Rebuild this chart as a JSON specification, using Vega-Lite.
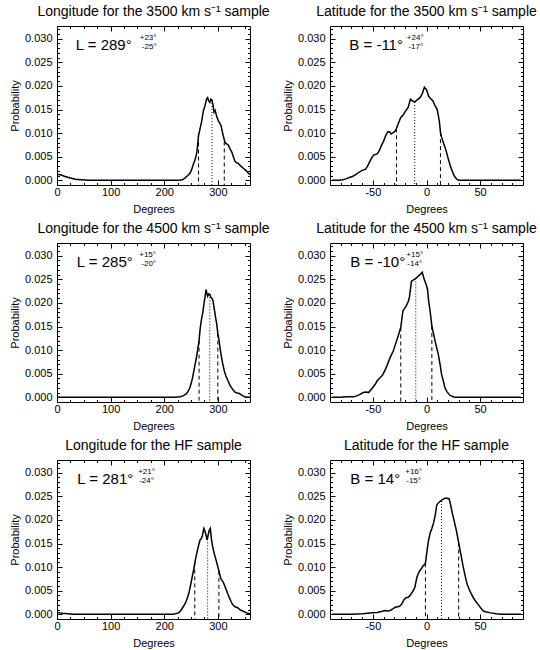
{
"$schema": "https://vega.github.io/schema/vega-lite/v6.json",
"padding": {"left": 9, "top": 5, "right": 0, "bottom": 0},
"background": "white",
"config": {
  "font": "Liberation Sans",
  "view": {"stroke": null},
  "axis": {"domainColor": "black", "tickColor": "black", "labelColor": "black", "titleColor": "black", "labelFont": "Liberation Sans", "titleFont": "Liberation Sans", "labelFontSize": 11, "titleFontSize": 11, "titleFontWeight": "normal", "grid": false, "tickWidth": 1, "domainWidth": 1, "labelFlush": false, "labelOverlap": false, "titlePadding": 4},
  "axisLeft": {"labelPadding": 10},
  "axisBottom": {"labelPadding": 6},
  "title": {"fontSize": 14, "fontWeight": "normal", "font": "Liberation Sans", "color": "black", "frame": "group", "offset": 4, "anchor": "middle"}
},
"datasets": {
  "curves": [
    {"s":"L3500","x":0,"p":0.0013},{"s":"L3500","x":8,"p":0.0011},{"s":"L3500","x":15,"p":0.0008},{"s":"L3500","x":25,"p":0.0005},{"s":"L3500","x":34,"p":0.0002},{"s":"L3500","x":45,"p":0.0001},{"s":"L3500","x":60,"p":0},{"s":"L3500","x":100,"p":0},{"s":"L3500","x":150,"p":0},{"s":"L3500","x":200,"p":0},{"s":"L3500","x":227,"p":0},{"s":"L3500","x":234,"p":0.0001},{"s":"L3500","x":239,"p":0.0005},{"s":"L3500","x":244,"p":0.001},{"s":"L3500","x":248,"p":0.0015},{"s":"L3500","x":251,"p":0.0022},{"s":"L3500","x":254,"p":0.0033},{"s":"L3500","x":258,"p":0.0045},{"s":"L3500","x":261,"p":0.006},{"s":"L3500","x":264,"p":0.0095},{"s":"L3500","x":267,"p":0.011},{"s":"L3500","x":270,"p":0.0126},{"s":"L3500","x":273,"p":0.0147},{"s":"L3500","x":276,"p":0.0158},{"s":"L3500","x":279,"p":0.0172},{"s":"L3500","x":281,"p":0.0175},{"s":"L3500","x":283,"p":0.0168},{"s":"L3500","x":285,"p":0.0165},{"s":"L3500","x":287,"p":0.0172},{"s":"L3500","x":289,"p":0.017},{"s":"L3500","x":291,"p":0.016},{"s":"L3500","x":293,"p":0.0144},{"s":"L3500","x":295,"p":0.0148},{"s":"L3500","x":298,"p":0.0135},{"s":"L3500","x":301,"p":0.0126},{"s":"L3500","x":304,"p":0.012},{"s":"L3500","x":306,"p":0.0116},{"s":"L3500","x":308,"p":0.0105},{"s":"L3500","x":310,"p":0.0095},{"s":"L3500","x":313,"p":0.0082},{"s":"L3500","x":315,"p":0.0078},{"s":"L3500","x":318,"p":0.0076},{"s":"L3500","x":320,"p":0.0074},{"s":"L3500","x":323,"p":0.0066},{"s":"L3500","x":326,"p":0.006},{"s":"L3500","x":329,"p":0.005},{"s":"L3500","x":332,"p":0.004},{"s":"L3500","x":335,"p":0.0037},{"s":"L3500","x":338,"p":0.0036},{"s":"L3500","x":341,"p":0.0032},{"s":"L3500","x":344,"p":0.0029},{"s":"L3500","x":348,"p":0.0025},{"s":"L3500","x":351,"p":0.0022},{"s":"L3500","x":354,"p":0.0019},{"s":"L3500","x":357,"p":0.0015},{"s":"L3500","x":360,"p":0.0012},

    {"s":"B3500","x":-88,"p":0},{"s":"B3500","x":-82,"p":0},{"s":"B3500","x":-78,"p":0.0001},{"s":"B3500","x":-75,"p":0.0003},{"s":"B3500","x":-72,"p":0.0006},{"s":"B3500","x":-69,"p":0.0008},{"s":"B3500","x":-66,"p":0.0012},{"s":"B3500","x":-63,"p":0.0017},{"s":"B3500","x":-60,"p":0.0021},{"s":"B3500","x":-57,"p":0.0023},{"s":"B3500","x":-55,"p":0.003},{"s":"B3500","x":-53,"p":0.0039},{"s":"B3500","x":-51,"p":0.0048},{"s":"B3500","x":-49,"p":0.0054},{"s":"B3500","x":-46,"p":0.0056},{"s":"B3500","x":-44,"p":0.0063},{"s":"B3500","x":-42,"p":0.0074},{"s":"B3500","x":-40,"p":0.0083},{"s":"B3500","x":-38,"p":0.0095},{"s":"B3500","x":-36,"p":0.0103},{"s":"B3500","x":-34,"p":0.0102},{"s":"B3500","x":-33,"p":0.0098},{"s":"B3500","x":-31,"p":0.0101},{"s":"B3500","x":-29,"p":0.0105},{"s":"B3500","x":-28,"p":0.011},{"s":"B3500","x":-26,"p":0.0122},{"s":"B3500","x":-24,"p":0.0133},{"s":"B3500","x":-22,"p":0.0138},{"s":"B3500","x":-20,"p":0.0145},{"s":"B3500","x":-17,"p":0.0155},{"s":"B3500","x":-15,"p":0.0172},{"s":"B3500","x":-13,"p":0.0168},{"s":"B3500","x":-11,"p":0.0166},{"s":"B3500","x":-9,"p":0.017},{"s":"B3500","x":-6,"p":0.0175},{"s":"B3500","x":-4,"p":0.0183},{"s":"B3500","x":-2,"p":0.0197},{"s":"B3500","x":0,"p":0.0192},{"s":"B3500","x":2,"p":0.0178},{"s":"B3500","x":4,"p":0.0173},{"s":"B3500","x":6,"p":0.0168},{"s":"B3500","x":8,"p":0.0158},{"s":"B3500","x":10,"p":0.015},{"s":"B3500","x":12,"p":0.0125},{"s":"B3500","x":13,"p":0.0102},{"s":"B3500","x":14,"p":0.0092},{"s":"B3500","x":16,"p":0.0078},{"s":"B3500","x":18,"p":0.0065},{"s":"B3500","x":20,"p":0.0048},{"s":"B3500","x":22,"p":0.0032},{"s":"B3500","x":24,"p":0.0019},{"s":"B3500","x":26,"p":0.0009},{"s":"B3500","x":28,"p":0.0003},{"s":"B3500","x":30,"p":0},{"s":"B3500","x":50,"p":0},{"s":"B3500","x":88,"p":0},

    {"s":"L4500","x":0,"p":0},{"s":"L4500","x":50,"p":0},{"s":"L4500","x":100,"p":0},{"s":"L4500","x":150,"p":0},{"s":"L4500","x":200,"p":0},{"s":"L4500","x":219,"p":0},{"s":"L4500","x":230,"p":0.0001},{"s":"L4500","x":235,"p":0.0003},{"s":"L4500","x":241,"p":0.0007},{"s":"L4500","x":244,"p":0.0012},{"s":"L4500","x":247,"p":0.0018},{"s":"L4500","x":250,"p":0.0028},{"s":"L4500","x":253,"p":0.0042},{"s":"L4500","x":256,"p":0.006},{"s":"L4500","x":260,"p":0.0084},{"s":"L4500","x":263,"p":0.0105},{"s":"L4500","x":265,"p":0.012},{"s":"L4500","x":267,"p":0.0145},{"s":"L4500","x":269,"p":0.0162},{"s":"L4500","x":272,"p":0.018},{"s":"L4500","x":274,"p":0.0197},{"s":"L4500","x":276,"p":0.0212},{"s":"L4500","x":278,"p":0.0228},{"s":"L4500","x":280,"p":0.0218},{"s":"L4500","x":281,"p":0.0214},{"s":"L4500","x":283,"p":0.0219},{"s":"L4500","x":285,"p":0.0218},{"s":"L4500","x":287,"p":0.0212},{"s":"L4500","x":289,"p":0.021},{"s":"L4500","x":291,"p":0.0204},{"s":"L4500","x":294,"p":0.0183},{"s":"L4500","x":296,"p":0.0168},{"s":"L4500","x":298,"p":0.0155},{"s":"L4500","x":300,"p":0.0135},{"s":"L4500","x":302,"p":0.0123},{"s":"L4500","x":304,"p":0.0105},{"s":"L4500","x":306,"p":0.0091},{"s":"L4500","x":309,"p":0.0072},{"s":"L4500","x":312,"p":0.0056},{"s":"L4500","x":315,"p":0.0045},{"s":"L4500","x":319,"p":0.0035},{"s":"L4500","x":322,"p":0.0027},{"s":"L4500","x":325,"p":0.0021},{"s":"L4500","x":329,"p":0.0015},{"s":"L4500","x":332,"p":0.0011},{"s":"L4500","x":336,"p":0.0009},{"s":"L4500","x":340,"p":0.0008},{"s":"L4500","x":344,"p":0.0005},{"s":"L4500","x":350,"p":0.0001},{"s":"L4500","x":355,"p":0},{"s":"L4500","x":360,"p":0},

    {"s":"B4500","x":-88,"p":0},{"s":"B4500","x":-80,"p":0},{"s":"B4500","x":-75,"p":0.0001},{"s":"B4500","x":-68,"p":0.0001},{"s":"B4500","x":-65,"p":0.0003},{"s":"B4500","x":-62,"p":0.0006},{"s":"B4500","x":-59,"p":0.001},{"s":"B4500","x":-56,"p":0.0011},{"s":"B4500","x":-54,"p":0.001},{"s":"B4500","x":-51,"p":0.0018},{"s":"B4500","x":-48,"p":0.0027},{"s":"B4500","x":-46,"p":0.0035},{"s":"B4500","x":-43,"p":0.0042},{"s":"B4500","x":-41,"p":0.0047},{"s":"B4500","x":-39,"p":0.0056},{"s":"B4500","x":-37,"p":0.0066},{"s":"B4500","x":-34,"p":0.0084},{"s":"B4500","x":-31,"p":0.0098},{"s":"B4500","x":-28,"p":0.0119},{"s":"B4500","x":-26,"p":0.0133},{"s":"B4500","x":-24,"p":0.0148},{"s":"B4500","x":-22,"p":0.0183},{"s":"B4500","x":-19,"p":0.0193},{"s":"B4500","x":-17,"p":0.0203},{"s":"B4500","x":-16,"p":0.0211},{"s":"B4500","x":-14,"p":0.0246},{"s":"B4500","x":-12,"p":0.0249},{"s":"B4500","x":-10,"p":0.0252},{"s":"B4500","x":-8,"p":0.0256},{"s":"B4500","x":-6,"p":0.026},{"s":"B4500","x":-4,"p":0.0265},{"s":"B4500","x":-2,"p":0.0249},{"s":"B4500","x":0,"p":0.0237},{"s":"B4500","x":1,"p":0.0228},{"s":"B4500","x":2,"p":0.0204},{"s":"B4500","x":3.5,"p":0.018},{"s":"B4500","x":5,"p":0.0151},{"s":"B4500","x":7,"p":0.013},{"s":"B4500","x":8,"p":0.0119},{"s":"B4500","x":11,"p":0.0091},{"s":"B4500","x":13,"p":0.0065},{"s":"B4500","x":14,"p":0.0049},{"s":"B4500","x":16,"p":0.0032},{"s":"B4500","x":17,"p":0.0021},{"s":"B4500","x":19,"p":0.0012},{"s":"B4500","x":22,"p":0.0004},{"s":"B4500","x":26,"p":0},{"s":"B4500","x":40,"p":0},{"s":"B4500","x":60,"p":0},{"s":"B4500","x":88,"p":0},

    {"s":"LHF","x":0,"p":0.0004},{"s":"LHF","x":5,"p":0.0003},{"s":"LHF","x":10,"p":0.0002},{"s":"LHF","x":20,"p":0.0001},{"s":"LHF","x":30,"p":0},{"s":"LHF","x":100,"p":0},{"s":"LHF","x":150,"p":0},{"s":"LHF","x":200,"p":0},{"s":"LHF","x":215,"p":0},{"s":"LHF","x":221,"p":0.0001},{"s":"LHF","x":227,"p":0.0003},{"s":"LHF","x":231,"p":0.0008},{"s":"LHF","x":236,"p":0.0017},{"s":"LHF","x":240,"p":0.0025},{"s":"LHF","x":243,"p":0.0034},{"s":"LHF","x":246,"p":0.0045},{"s":"LHF","x":249,"p":0.0061},{"s":"LHF","x":252,"p":0.0078},{"s":"LHF","x":255,"p":0.0095},{"s":"LHF","x":258,"p":0.0115},{"s":"LHF","x":262,"p":0.0136},{"s":"LHF","x":265,"p":0.015},{"s":"LHF","x":267,"p":0.0158},{"s":"LHF","x":269,"p":0.016},{"s":"LHF","x":271,"p":0.0166},{"s":"LHF","x":274,"p":0.0182},{"s":"LHF","x":276,"p":0.0176},{"s":"LHF","x":278,"p":0.0168},{"s":"LHF","x":280,"p":0.0158},{"s":"LHF","x":282,"p":0.0168},{"s":"LHF","x":284,"p":0.0178},{"s":"LHF","x":286,"p":0.0182},{"s":"LHF","x":288,"p":0.016},{"s":"LHF","x":290,"p":0.0145},{"s":"LHF","x":293,"p":0.013},{"s":"LHF","x":296,"p":0.0118},{"s":"LHF","x":299,"p":0.0105},{"s":"LHF","x":302,"p":0.0092},{"s":"LHF","x":305,"p":0.0078},{"s":"LHF","x":307,"p":0.0073},{"s":"LHF","x":310,"p":0.0068},{"s":"LHF","x":313,"p":0.006},{"s":"LHF","x":316,"p":0.0051},{"s":"LHF","x":319,"p":0.0042},{"s":"LHF","x":322,"p":0.0034},{"s":"LHF","x":325,"p":0.0026},{"s":"LHF","x":328,"p":0.002},{"s":"LHF","x":332,"p":0.0016},{"s":"LHF","x":337,"p":0.0014},{"s":"LHF","x":341,"p":0.001},{"s":"LHF","x":346,"p":0.0007},{"s":"LHF","x":352,"p":0.0004},{"s":"LHF","x":356,"p":0.0002},{"s":"LHF","x":360,"p":0.0001},

    {"s":"BHF","x":-88,"p":0},{"s":"BHF","x":-70,"p":0},{"s":"BHF","x":-60,"p":0.0001},{"s":"BHF","x":-55,"p":0.0002},{"s":"BHF","x":-50,"p":0.0003},{"s":"BHF","x":-46,"p":0.0004},{"s":"BHF","x":-42,"p":0.0006},{"s":"BHF","x":-39,"p":0.0008},{"s":"BHF","x":-36,"p":0.0007},{"s":"BHF","x":-34,"p":0.0008},{"s":"BHF","x":-31,"p":0.0012},{"s":"BHF","x":-29,"p":0.0015},{"s":"BHF","x":-27,"p":0.0016},{"s":"BHF","x":-25,"p":0.0017},{"s":"BHF","x":-23,"p":0.0022},{"s":"BHF","x":-21,"p":0.0031},{"s":"BHF","x":-19,"p":0.0035},{"s":"BHF","x":-17,"p":0.0036},{"s":"BHF","x":-15,"p":0.0041},{"s":"BHF","x":-13,"p":0.0048},{"s":"BHF","x":-11,"p":0.0056},{"s":"BHF","x":-9,"p":0.0078},{"s":"BHF","x":-7,"p":0.009},{"s":"BHF","x":-5,"p":0.0096},{"s":"BHF","x":-3,"p":0.0103},{"s":"BHF","x":-1,"p":0.0108},{"s":"BHF","x":0.5,"p":0.0135},{"s":"BHF","x":2,"p":0.0158},{"s":"BHF","x":3.5,"p":0.0173},{"s":"BHF","x":5,"p":0.0182},{"s":"BHF","x":6.5,"p":0.0193},{"s":"BHF","x":8,"p":0.0208},{"s":"BHF","x":9.5,"p":0.0231},{"s":"BHF","x":11,"p":0.0236},{"s":"BHF","x":13,"p":0.024},{"s":"BHF","x":15,"p":0.0243},{"s":"BHF","x":17,"p":0.0246},{"s":"BHF","x":19,"p":0.0246},{"s":"BHF","x":21,"p":0.0245},{"s":"BHF","x":22,"p":0.0237},{"s":"BHF","x":24,"p":0.0215},{"s":"BHF","x":26,"p":0.0196},{"s":"BHF","x":28,"p":0.0176},{"s":"BHF","x":30,"p":0.0152},{"s":"BHF","x":32,"p":0.0128},{"s":"BHF","x":34,"p":0.0103},{"s":"BHF","x":36,"p":0.0082},{"s":"BHF","x":38,"p":0.0063},{"s":"BHF","x":40,"p":0.0052},{"s":"BHF","x":42,"p":0.0042},{"s":"BHF","x":44,"p":0.0034},{"s":"BHF","x":46,"p":0.0027},{"s":"BHF","x":48.5,"p":0.002},{"s":"BHF","x":51,"p":0.0012},{"s":"BHF","x":53,"p":0.0007},{"s":"BHF","x":56,"p":0.0005},{"s":"BHF","x":60,"p":0.0003},{"s":"BHF","x":65,"p":0.0001},{"s":"BHF","x":70,"p":0},{"s":"BHF","x":88,"p":0}
  ],
  "marks": [
    {"s":"L3500","kind":"lo","x":264,"p":0.0095},{"s":"L3500","kind":"med","x":289,"p":0.017},{"s":"L3500","kind":"hi","x":312,"p":0.0082},
    {"s":"B3500","kind":"lo","x":-28,"p":0.011},{"s":"B3500","kind":"med","x":-11,"p":0.0166},{"s":"B3500","kind":"hi","x":13,"p":0.0102},
    {"s":"L4500","kind":"lo","x":265,"p":0.012},{"s":"L4500","kind":"med","x":285,"p":0.0218},{"s":"L4500","kind":"hi","x":300,"p":0.0135},
    {"s":"B4500","kind":"lo","x":-24,"p":0.0148},{"s":"B4500","kind":"med","x":-10,"p":0.0252},{"s":"B4500","kind":"hi","x":5,"p":0.0151},
    {"s":"LHF","kind":"lo","x":257,"p":0.011},{"s":"LHF","kind":"med","x":281,"p":0.0165},{"s":"LHF","kind":"hi","x":302,"p":0.0092},
    {"s":"BHF","kind":"lo","x":-1,"p":0.0108},{"s":"BHF","kind":"med","x":14,"p":0.024},{"s":"BHF","kind":"hi","x":30,"p":0.0152}
  ],
  "notes": [
    {"s":"L3500","main":"L = 289°","plus":"+23°","minus":"-25°"},
    {"s":"B3500","main":"B = -11°","plus":"+24°","minus":"-17°"},
    {"s":"L4500","main":"L = 285°","plus":"+15°","minus":"-20°"},
    {"s":"B4500","main":"B = -10°","plus":"+15°","minus":"-14°"},
    {"s":"LHF","main":"L = 281°","plus":"+21°","minus":"-24°"},
    {"s":"BHF","main":"B = 14°","plus":"+16°","minus":"-15°"}
  ]
},
"columns": 2,
"spacing": {"row": 58, "column": 80},
"bounds": "flush",
"concat": [
  {"title": "Longitude for the 3500 km s⁻¹ sample", "width": 193, "height": 159,
   "layer": [
    {"data": {"name": "curves"}, "transform": [{"filter": "datum.s === 'L3500'"}], "mark": {"type": "line", "color": "black", "strokeWidth": 1.5},
     "encoding": {"x": {"field": "x", "type": "quantitative", "scale": {"domain": [0, 360], "nice": false, "zero": false}, "axis": {"orient": "bottom", "title": "Degrees", "values": [0,25,50,75,100,125,150,175,200,225,250,275,300,325,350], "tickSize": {"condition": {"test": "datum.value % 100 === 0", "value": -5}, "value": -2.5}, "labelExpr": "datum.value % 100 === 0 ? '' + datum.value : ''"}},
                  "y": {"field": "p", "type": "quantitative", "scale": {"domain": [-0.001, 0.0327], "nice": false, "zero": false}, "axis": {"orient": "left", "title": "Probability", "values": [0,0.001,0.002,0.003,0.004,0.005,0.006,0.007,0.008,0.009,0.01,0.011,0.012,0.013,0.014,0.015,0.016,0.017,0.018,0.019,0.02,0.021,0.022,0.023,0.024,0.025,0.026,0.027,0.028,0.029,0.03,0.031,0.032], "tickSize": {"condition": {"test": "abs(round(datum.value*1000)) % 5 === 0", "value": -5}, "value": -2.5}, "labelExpr": "abs(round(datum.value*1000)) % 5 === 0 ? format(datum.value, '.3f') : ''"}}}},
    {"data": {"name": "marks"}, "transform": [{"filter": "datum.s === 'L3500'"}], "mark": {"type": "rule", "color": "black", "strokeWidth": 1},
     "encoding": {"x": {"field": "x", "type": "quantitative", "axis": {"orient": "top", "title": null, "labels": false, "values": [0,25,50,75,100,125,150,175,200,225,250,275,300,325,350], "tickSize": {"condition": {"test": "datum.value % 100 === 0", "value": -5}, "value": -2.5}}},
                  "y": {"field": "p", "type": "quantitative", "axis": {"orient": "right", "title": null, "labels": false, "values": [0,0.001,0.002,0.003,0.004,0.005,0.006,0.007,0.008,0.009,0.01,0.011,0.012,0.013,0.014,0.015,0.016,0.017,0.018,0.019,0.02,0.021,0.022,0.023,0.024,0.025,0.026,0.027,0.028,0.029,0.03,0.031,0.032], "tickSize": {"condition": {"test": "abs(round(datum.value*1000)) % 5 === 0", "value": -5}, "value": -2.5}}},
                  "y2": {"datum": -0.001},
                  "strokeDash": {"field": "kind", "type": "nominal", "scale": {"domain": ["lo","med","hi"], "range": [[4,3],[1,2],[4,3]]}, "legend": null}}},
    {"data": {"name": "notes"}, "transform": [{"filter": "datum.s === 'L3500'"}], "mark": {"type": "text", "align": "left", "baseline": "middle", "fontSize": 15, "color": "black"},
     "encoding": {"x": {"datum": 35, "axis": null}, "y": {"datum": 0.0286, "axis": null}, "text": {"field": "main"}}},
    {"data": {"name": "notes"}, "transform": [{"filter": "datum.s === 'L3500'"}], "mark": {"type": "text", "align": "center", "baseline": "middle", "fontSize": 8, "color": "black"},
     "encoding": {"x": {"datum": 170, "axis": null}, "y": {"datum": 0.0302, "axis": null}, "text": {"field": "plus"}}},
    {"data": {"name": "notes"}, "transform": [{"filter": "datum.s === 'L3500'"}], "mark": {"type": "text", "align": "center", "baseline": "middle", "fontSize": 8, "color": "black"},
     "encoding": {"x": {"datum": 172, "axis": null}, "y": {"datum": 0.0282, "axis": null}, "text": {"field": "minus"}}}
   ],
   "resolve": {"axis": {"x": "independent", "y": "independent"}}},

  {"title": "Latitude for the 3500 km s⁻¹ sample", "width": 193, "height": 159,
   "layer": [
    {"data": {"name": "curves"}, "transform": [{"filter": "datum.s === 'B3500'"}], "mark": {"type": "line", "color": "black", "strokeWidth": 1.5},
     "encoding": {"x": {"field": "x", "type": "quantitative", "scale": {"domain": [-90, 90], "nice": false, "zero": false}, "axis": {"orient": "bottom", "title": "Degrees", "values": [-80,-70,-60,-50,-40,-30,-20,-10,0,10,20,30,40,50,60,70,80], "tickSize": {"condition": {"test": "datum.value % 50 === 0", "value": -5}, "value": -2.5}, "labelExpr": "datum.value % 50 === 0 ? '' + datum.value : ''"}},
                  "y": {"field": "p", "type": "quantitative", "scale": {"domain": [-0.001, 0.0327], "nice": false, "zero": false}, "axis": {"orient": "left", "title": "Probability", "values": [0,0.001,0.002,0.003,0.004,0.005,0.006,0.007,0.008,0.009,0.01,0.011,0.012,0.013,0.014,0.015,0.016,0.017,0.018,0.019,0.02,0.021,0.022,0.023,0.024,0.025,0.026,0.027,0.028,0.029,0.03,0.031,0.032], "tickSize": {"condition": {"test": "abs(round(datum.value*1000)) % 5 === 0", "value": -5}, "value": -2.5}, "labelExpr": "abs(round(datum.value*1000)) % 5 === 0 ? format(datum.value, '.3f') : ''"}}}},
    {"data": {"name": "marks"}, "transform": [{"filter": "datum.s === 'B3500'"}], "mark": {"type": "rule", "color": "black", "strokeWidth": 1},
     "encoding": {"x": {"field": "x", "type": "quantitative", "axis": {"orient": "top", "title": null, "labels": false, "values": [-80,-70,-60,-50,-40,-30,-20,-10,0,10,20,30,40,50,60,70,80], "tickSize": {"condition": {"test": "datum.value % 50 === 0", "value": -5}, "value": -2.5}}},
                  "y": {"field": "p", "type": "quantitative", "axis": {"orient": "right", "title": null, "labels": false, "values": [0,0.001,0.002,0.003,0.004,0.005,0.006,0.007,0.008,0.009,0.01,0.011,0.012,0.013,0.014,0.015,0.016,0.017,0.018,0.019,0.02,0.021,0.022,0.023,0.024,0.025,0.026,0.027,0.028,0.029,0.03,0.031,0.032], "tickSize": {"condition": {"test": "abs(round(datum.value*1000)) % 5 === 0", "value": -5}, "value": -2.5}}},
                  "y2": {"datum": -0.001},
                  "strokeDash": {"field": "kind", "type": "nominal", "scale": {"domain": ["lo","med","hi"], "range": [[4,3],[1,2],[4,3]]}, "legend": null}}},
    {"data": {"name": "notes"}, "transform": [{"filter": "datum.s === 'B3500'"}], "mark": {"type": "text", "align": "left", "baseline": "middle", "fontSize": 15, "color": "black"},
     "encoding": {"x": {"datum": -72, "axis": null}, "y": {"datum": 0.0286, "axis": null}, "text": {"field": "main"}}},
    {"data": {"name": "notes"}, "transform": [{"filter": "datum.s === 'B3500'"}], "mark": {"type": "text", "align": "center", "baseline": "middle", "fontSize": 8, "color": "black"},
     "encoding": {"x": {"datum": -10.5, "axis": null}, "y": {"datum": 0.0302, "axis": null}, "text": {"field": "plus"}}},
    {"data": {"name": "notes"}, "transform": [{"filter": "datum.s === 'B3500'"}], "mark": {"type": "text", "align": "center", "baseline": "middle", "fontSize": 8, "color": "black"},
     "encoding": {"x": {"datum": -10, "axis": null}, "y": {"datum": 0.0282, "axis": null}, "text": {"field": "minus"}}}
   ],
   "resolve": {"axis": {"x": "independent", "y": "independent"}}},

  {"title": "Longitude for the 4500 km s⁻¹ sample", "width": 193, "height": 159,
   "layer": [
    {"data": {"name": "curves"}, "transform": [{"filter": "datum.s === 'L4500'"}], "mark": {"type": "line", "color": "black", "strokeWidth": 1.5},
     "encoding": {"x": {"field": "x", "type": "quantitative", "scale": {"domain": [0, 360], "nice": false, "zero": false}, "axis": {"orient": "bottom", "title": "Degrees", "values": [0,25,50,75,100,125,150,175,200,225,250,275,300,325,350], "tickSize": {"condition": {"test": "datum.value % 100 === 0", "value": -5}, "value": -2.5}, "labelExpr": "datum.value % 100 === 0 ? '' + datum.value : ''"}},
                  "y": {"field": "p", "type": "quantitative", "scale": {"domain": [-0.001, 0.0327], "nice": false, "zero": false}, "axis": {"orient": "left", "title": "Probability", "values": [0,0.001,0.002,0.003,0.004,0.005,0.006,0.007,0.008,0.009,0.01,0.011,0.012,0.013,0.014,0.015,0.016,0.017,0.018,0.019,0.02,0.021,0.022,0.023,0.024,0.025,0.026,0.027,0.028,0.029,0.03,0.031,0.032], "tickSize": {"condition": {"test": "abs(round(datum.value*1000)) % 5 === 0", "value": -5}, "value": -2.5}, "labelExpr": "abs(round(datum.value*1000)) % 5 === 0 ? format(datum.value, '.3f') : ''"}}}},
    {"data": {"name": "marks"}, "transform": [{"filter": "datum.s === 'L4500'"}], "mark": {"type": "rule", "color": "black", "strokeWidth": 1},
     "encoding": {"x": {"field": "x", "type": "quantitative", "axis": {"orient": "top", "title": null, "labels": false, "values": [0,25,50,75,100,125,150,175,200,225,250,275,300,325,350], "tickSize": {"condition": {"test": "datum.value % 100 === 0", "value": -5}, "value": -2.5}}},
                  "y": {"field": "p", "type": "quantitative", "axis": {"orient": "right", "title": null, "labels": false, "values": [0,0.001,0.002,0.003,0.004,0.005,0.006,0.007,0.008,0.009,0.01,0.011,0.012,0.013,0.014,0.015,0.016,0.017,0.018,0.019,0.02,0.021,0.022,0.023,0.024,0.025,0.026,0.027,0.028,0.029,0.03,0.031,0.032], "tickSize": {"condition": {"test": "abs(round(datum.value*1000)) % 5 === 0", "value": -5}, "value": -2.5}}},
                  "y2": {"datum": -0.001},
                  "strokeDash": {"field": "kind", "type": "nominal", "scale": {"domain": ["lo","med","hi"], "range": [[4,3],[1,2],[4,3]]}, "legend": null}}},
    {"data": {"name": "notes"}, "transform": [{"filter": "datum.s === 'L4500'"}], "mark": {"type": "text", "align": "left", "baseline": "middle", "fontSize": 15, "color": "black"},
     "encoding": {"x": {"datum": 37, "axis": null}, "y": {"datum": 0.0286, "axis": null}, "text": {"field": "main"}}},
    {"data": {"name": "notes"}, "transform": [{"filter": "datum.s === 'L4500'"}], "mark": {"type": "text", "align": "center", "baseline": "middle", "fontSize": 8, "color": "black"},
     "encoding": {"x": {"datum": 169, "axis": null}, "y": {"datum": 0.0302, "axis": null}, "text": {"field": "plus"}}},
    {"data": {"name": "notes"}, "transform": [{"filter": "datum.s === 'L4500'"}], "mark": {"type": "text", "align": "center", "baseline": "middle", "fontSize": 8, "color": "black"},
     "encoding": {"x": {"datum": 171, "axis": null}, "y": {"datum": 0.0282, "axis": null}, "text": {"field": "minus"}}}
   ],
   "resolve": {"axis": {"x": "independent", "y": "independent"}}},

  {"title": "Latitude for the 4500 km s⁻¹ sample", "width": 193, "height": 159,
   "layer": [
    {"data": {"name": "curves"}, "transform": [{"filter": "datum.s === 'B4500'"}], "mark": {"type": "line", "color": "black", "strokeWidth": 1.5},
     "encoding": {"x": {"field": "x", "type": "quantitative", "scale": {"domain": [-90, 90], "nice": false, "zero": false}, "axis": {"orient": "bottom", "title": "Degrees", "values": [-80,-70,-60,-50,-40,-30,-20,-10,0,10,20,30,40,50,60,70,80], "tickSize": {"condition": {"test": "datum.value % 50 === 0", "value": -5}, "value": -2.5}, "labelExpr": "datum.value % 50 === 0 ? '' + datum.value : ''"}},
                  "y": {"field": "p", "type": "quantitative", "scale": {"domain": [-0.001, 0.0327], "nice": false, "zero": false}, "axis": {"orient": "left", "title": "Probability", "values": [0,0.001,0.002,0.003,0.004,0.005,0.006,0.007,0.008,0.009,0.01,0.011,0.012,0.013,0.014,0.015,0.016,0.017,0.018,0.019,0.02,0.021,0.022,0.023,0.024,0.025,0.026,0.027,0.028,0.029,0.03,0.031,0.032], "tickSize": {"condition": {"test": "abs(round(datum.value*1000)) % 5 === 0", "value": -5}, "value": -2.5}, "labelExpr": "abs(round(datum.value*1000)) % 5 === 0 ? format(datum.value, '.3f') : ''"}}}},
    {"data": {"name": "marks"}, "transform": [{"filter": "datum.s === 'B4500'"}], "mark": {"type": "rule", "color": "black", "strokeWidth": 1},
     "encoding": {"x": {"field": "x", "type": "quantitative", "axis": {"orient": "top", "title": null, "labels": false, "values": [-80,-70,-60,-50,-40,-30,-20,-10,0,10,20,30,40,50,60,70,80], "tickSize": {"condition": {"test": "datum.value % 50 === 0", "value": -5}, "value": -2.5}}},
                  "y": {"field": "p", "type": "quantitative", "axis": {"orient": "right", "title": null, "labels": false, "values": [0,0.001,0.002,0.003,0.004,0.005,0.006,0.007,0.008,0.009,0.01,0.011,0.012,0.013,0.014,0.015,0.016,0.017,0.018,0.019,0.02,0.021,0.022,0.023,0.024,0.025,0.026,0.027,0.028,0.029,0.03,0.031,0.032], "tickSize": {"condition": {"test": "abs(round(datum.value*1000)) % 5 === 0", "value": -5}, "value": -2.5}}},
                  "y2": {"datum": -0.001},
                  "strokeDash": {"field": "kind", "type": "nominal", "scale": {"domain": ["lo","med","hi"], "range": [[4,3],[1,2],[4,3]]}, "legend": null}}},
    {"data": {"name": "notes"}, "transform": [{"filter": "datum.s === 'B4500'"}], "mark": {"type": "text", "align": "left", "baseline": "middle", "fontSize": 15, "color": "black"},
     "encoding": {"x": {"datum": -71, "axis": null}, "y": {"datum": 0.0286, "axis": null}, "text": {"field": "main"}}},
    {"data": {"name": "notes"}, "transform": [{"filter": "datum.s === 'B4500'"}], "mark": {"type": "text", "align": "center", "baseline": "middle", "fontSize": 8, "color": "black"},
     "encoding": {"x": {"datum": -11, "axis": null}, "y": {"datum": 0.0302, "axis": null}, "text": {"field": "plus"}}},
    {"data": {"name": "notes"}, "transform": [{"filter": "datum.s === 'B4500'"}], "mark": {"type": "text", "align": "center", "baseline": "middle", "fontSize": 8, "color": "black"},
     "encoding": {"x": {"datum": -11, "axis": null}, "y": {"datum": 0.0282, "axis": null}, "text": {"field": "minus"}}}
   ],
   "resolve": {"axis": {"x": "independent", "y": "independent"}}},

  {"title": "Longitude for the HF sample", "width": 193, "height": 159,
   "layer": [
    {"data": {"name": "curves"}, "transform": [{"filter": "datum.s === 'LHF'"}], "mark": {"type": "line", "color": "black", "strokeWidth": 1.5},
     "encoding": {"x": {"field": "x", "type": "quantitative", "scale": {"domain": [0, 360], "nice": false, "zero": false}, "axis": {"orient": "bottom", "title": "Degrees", "values": [0,25,50,75,100,125,150,175,200,225,250,275,300,325,350], "tickSize": {"condition": {"test": "datum.value % 100 === 0", "value": -5}, "value": -2.5}, "labelExpr": "datum.value % 100 === 0 ? '' + datum.value : ''"}},
                  "y": {"field": "p", "type": "quantitative", "scale": {"domain": [-0.001, 0.0327], "nice": false, "zero": false}, "axis": {"orient": "left", "title": "Probability", "values": [0,0.001,0.002,0.003,0.004,0.005,0.006,0.007,0.008,0.009,0.01,0.011,0.012,0.013,0.014,0.015,0.016,0.017,0.018,0.019,0.02,0.021,0.022,0.023,0.024,0.025,0.026,0.027,0.028,0.029,0.03,0.031,0.032], "tickSize": {"condition": {"test": "abs(round(datum.value*1000)) % 5 === 0", "value": -5}, "value": -2.5}, "labelExpr": "abs(round(datum.value*1000)) % 5 === 0 ? format(datum.value, '.3f') : ''"}}}},
    {"data": {"name": "marks"}, "transform": [{"filter": "datum.s === 'LHF'"}], "mark": {"type": "rule", "color": "black", "strokeWidth": 1},
     "encoding": {"x": {"field": "x", "type": "quantitative", "axis": {"orient": "top", "title": null, "labels": false, "values": [0,25,50,75,100,125,150,175,200,225,250,275,300,325,350], "tickSize": {"condition": {"test": "datum.value % 100 === 0", "value": -5}, "value": -2.5}}},
                  "y": {"field": "p", "type": "quantitative", "axis": {"orient": "right", "title": null, "labels": false, "values": [0,0.001,0.002,0.003,0.004,0.005,0.006,0.007,0.008,0.009,0.01,0.011,0.012,0.013,0.014,0.015,0.016,0.017,0.018,0.019,0.02,0.021,0.022,0.023,0.024,0.025,0.026,0.027,0.028,0.029,0.03,0.031,0.032], "tickSize": {"condition": {"test": "abs(round(datum.value*1000)) % 5 === 0", "value": -5}, "value": -2.5}}},
                  "y2": {"datum": -0.001},
                  "strokeDash": {"field": "kind", "type": "nominal", "scale": {"domain": ["lo","med","hi"], "range": [[4,3],[1,2],[4,3]]}, "legend": null}}},
    {"data": {"name": "notes"}, "transform": [{"filter": "datum.s === 'LHF'"}], "mark": {"type": "text", "align": "left", "baseline": "middle", "fontSize": 15, "color": "black"},
     "encoding": {"x": {"datum": 38, "axis": null}, "y": {"datum": 0.0286, "axis": null}, "text": {"field": "main"}}},
    {"data": {"name": "notes"}, "transform": [{"filter": "datum.s === 'LHF'"}], "mark": {"type": "text", "align": "center", "baseline": "middle", "fontSize": 8, "color": "black"},
     "encoding": {"x": {"datum": 167, "axis": null}, "y": {"datum": 0.0302, "axis": null}, "text": {"field": "plus"}}},
    {"data": {"name": "notes"}, "transform": [{"filter": "datum.s === 'LHF'"}], "mark": {"type": "text", "align": "center", "baseline": "middle", "fontSize": 8, "color": "black"},
     "encoding": {"x": {"datum": 167, "axis": null}, "y": {"datum": 0.0282, "axis": null}, "text": {"field": "minus"}}}
   ],
   "resolve": {"axis": {"x": "independent", "y": "independent"}}},

  {"title": "Latitude for the HF sample", "width": 193, "height": 159,
   "layer": [
    {"data": {"name": "curves"}, "transform": [{"filter": "datum.s === 'BHF'"}], "mark": {"type": "line", "color": "black", "strokeWidth": 1.5},
     "encoding": {"x": {"field": "x", "type": "quantitative", "scale": {"domain": [-90, 90], "nice": false, "zero": false}, "axis": {"orient": "bottom", "title": "Degrees", "values": [-80,-70,-60,-50,-40,-30,-20,-10,0,10,20,30,40,50,60,70,80], "tickSize": {"condition": {"test": "datum.value % 50 === 0", "value": -5}, "value": -2.5}, "labelExpr": "datum.value % 50 === 0 ? '' + datum.value : ''"}},
                  "y": {"field": "p", "type": "quantitative", "scale": {"domain": [-0.001, 0.0327], "nice": false, "zero": false}, "axis": {"orient": "left", "title": "Probability", "values": [0,0.001,0.002,0.003,0.004,0.005,0.006,0.007,0.008,0.009,0.01,0.011,0.012,0.013,0.014,0.015,0.016,0.017,0.018,0.019,0.02,0.021,0.022,0.023,0.024,0.025,0.026,0.027,0.028,0.029,0.03,0.031,0.032], "tickSize": {"condition": {"test": "abs(round(datum.value*1000)) % 5 === 0", "value": -5}, "value": -2.5}, "labelExpr": "abs(round(datum.value*1000)) % 5 === 0 ? format(datum.value, '.3f') : ''"}}}},
    {"data": {"name": "marks"}, "transform": [{"filter": "datum.s === 'BHF'"}], "mark": {"type": "rule", "color": "black", "strokeWidth": 1},
     "encoding": {"x": {"field": "x", "type": "quantitative", "axis": {"orient": "top", "title": null, "labels": false, "values": [-80,-70,-60,-50,-40,-30,-20,-10,0,10,20,30,40,50,60,70,80], "tickSize": {"condition": {"test": "datum.value % 50 === 0", "value": -5}, "value": -2.5}}},
                  "y": {"field": "p", "type": "quantitative", "axis": {"orient": "right", "title": null, "labels": false, "values": [0,0.001,0.002,0.003,0.004,0.005,0.006,0.007,0.008,0.009,0.01,0.011,0.012,0.013,0.014,0.015,0.016,0.017,0.018,0.019,0.02,0.021,0.022,0.023,0.024,0.025,0.026,0.027,0.028,0.029,0.03,0.031,0.032], "tickSize": {"condition": {"test": "abs(round(datum.value*1000)) % 5 === 0", "value": -5}, "value": -2.5}}},
                  "y2": {"datum": -0.001},
                  "strokeDash": {"field": "kind", "type": "nominal", "scale": {"domain": ["lo","med","hi"], "range": [[4,3],[1,2],[4,3]]}, "legend": null}}},
    {"data": {"name": "notes"}, "transform": [{"filter": "datum.s === 'BHF'"}], "mark": {"type": "text", "align": "left", "baseline": "middle", "fontSize": 15, "color": "black"},
     "encoding": {"x": {"datum": -71, "axis": null}, "y": {"datum": 0.0286, "axis": null}, "text": {"field": "main"}}},
    {"data": {"name": "notes"}, "transform": [{"filter": "datum.s === 'BHF'"}], "mark": {"type": "text", "align": "center", "baseline": "middle", "fontSize": 8, "color": "black"},
     "encoding": {"x": {"datum": -12, "axis": null}, "y": {"datum": 0.0302, "axis": null}, "text": {"field": "plus"}}},
    {"data": {"name": "notes"}, "transform": [{"filter": "datum.s === 'BHF'"}], "mark": {"type": "text", "align": "center", "baseline": "middle", "fontSize": 8, "color": "black"},
     "encoding": {"x": {"datum": -12, "axis": null}, "y": {"datum": 0.0282, "axis": null}, "text": {"field": "minus"}}}
   ],
   "resolve": {"axis": {"x": "independent", "y": "independent"}}}
]
}
